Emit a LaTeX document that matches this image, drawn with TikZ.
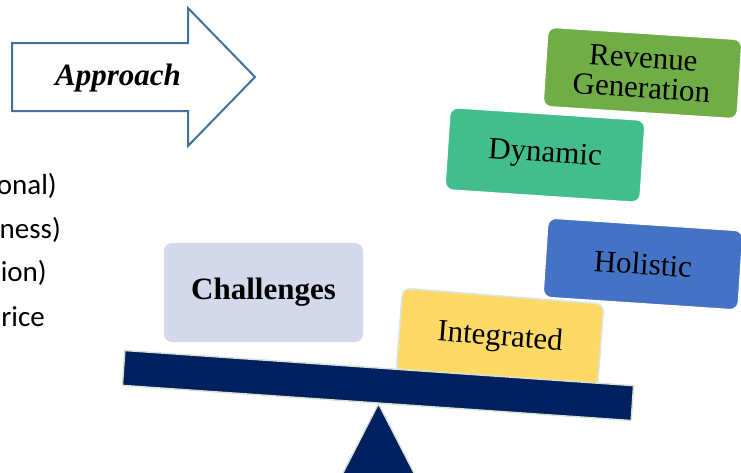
\documentclass[tikz,border=0pt]{standalone}
\usepackage{fontspec}
\setmainfont{Liberation Serif}
\newfontfamily\sidefont{Carlito}
\definecolor{arrowline}{RGB}{65,113,156}
\definecolor{challfill}{RGB}{211,216,235}
\definecolor{navy}{RGB}{0,32,96}
\definecolor{beamedge}{RGB}{214,227,206}
\definecolor{intfill}{RGB}{255,217,102}
\definecolor{intedge}{RGB}{216,231,234}
\definecolor{holfill}{RGB}{68,114,196}
\definecolor{dynfill}{RGB}{66,189,140}
\definecolor{revfill}{RGB}{112,173,71}
\begin{document}
\begin{tikzpicture}[x=1pt,y=-1pt,
  card/.style={rectangle, rounded corners=8pt, inner sep=0pt, align=center,
    font=\fontsize{31}{31}\selectfont},
  sidetext/.style={anchor=base east, inner sep=0pt,
    font=\sidefont\fontsize{29}{34}\selectfont},
]
\useasboundingbox (0,0) rectangle (741,472);

% partial list on the left edge
\node[sidetext] (l1) at (57,194) {onal)};
\node[sidetext] (l2) at (61,238) {ness)};
\node[sidetext] (l3) at (47,281) {ion)};
\node[sidetext] (l4) at (45,326) {rice};

% block arrow
\draw[arrowline, line width=2pt, fill=white, line join=miter]
  (12,43) -- (188,43) -- (188,8) -- (255,77) -- (188,146) -- (188,111) -- (12,111) -- cycle;
\node[anchor=base, inner sep=0pt, font=\fontsize{31}{31}\selectfont\bfseries\itshape]
  (approach) at (118,85) {Approach};

% challenges box
\node[card, fill=challfill, minimum width=199pt, minimum height=99pt,
  font=\fontsize{31}{31}\selectfont\bfseries] (chall) at (263.5,292.5) {Challenges};

% stacked cards
\node[card, fill=intfill, draw=intedge, line width=1.5pt, minimum width=202pt,
  minimum height=84pt, rotate=-4.5] (integ) at (500,338) {Integrated};
\node[card, fill=holfill, draw=white, line width=1pt, minimum width=195pt,
  minimum height=79pt, rotate=-3.8] (holi) at (643,264) {Holistic};
\node[card, fill=dynfill, draw=white, line width=1pt, minimum width=195pt,
  minimum height=82pt, rotate=-3.8] (dyn) at (545,155) {Dynamic};
\node[card, fill=revfill, draw=white, line width=1pt, minimum width=194pt,
  minimum height=79pt, rotate=-3.7] (rev) at (642.5,73) {Revenue\\[-1pt]Generation};

% fulcrum
\coordinate (apex) at (378.5,404);
\coordinate (footL) at (339.5,480);
\coordinate (footR) at (417.5,480);
\draw[navy, fill=navy] (footL) -- (apex) -- (footR) -- cycle;
\draw[beamedge, line width=1.2pt] (footL) -- (apex) -- (footR);

% beam
\node[rectangle, fill=navy, draw=beamedge, line width=1.5pt, minimum width=510pt,
  minimum height=35pt, rotate=-3.95, inner sep=0pt] (beam) at (378,385.5) {};
\end{tikzpicture}
\end{document}
